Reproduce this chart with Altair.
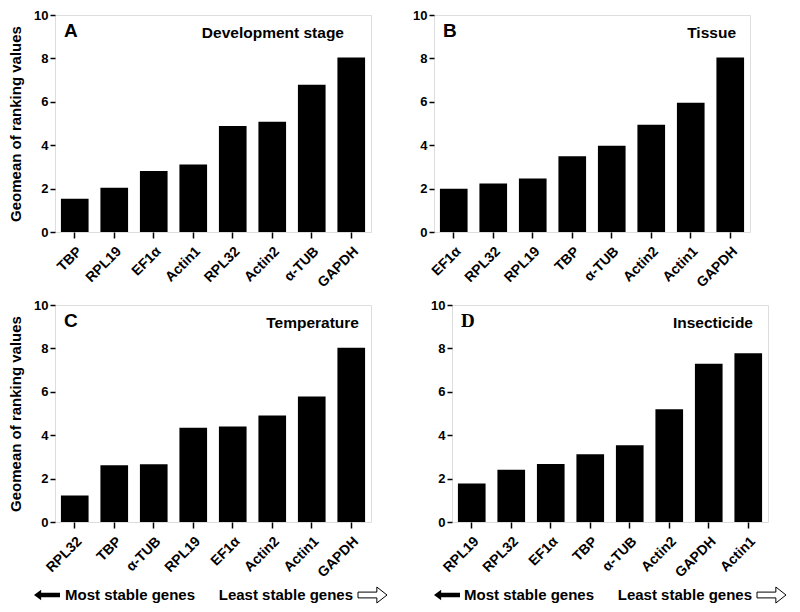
import altair as alt
import pandas as pd

# ---- data ----
genes_a = ["TBP", "RPL19", "EF1α", "Actin1", "RPL32", "Actin2", "α-TUB", "GAPDH"]
values_a = [1.53, 2.04, 2.81, 3.11, 4.89, 5.08, 6.78, 8.04]

genes_b = ["EF1α", "RPL32", "RPL19", "TBP", "α-TUB", "Actin2", "Actin1", "GAPDH"]
values_b = [1.99, 2.23, 2.47, 3.49, 3.98, 4.94, 5.96, 8.04]

genes_c = ["RPL32", "TBP", "α-TUB", "RPL19", "EF1α", "Actin2", "Actin1", "GAPDH"]
values_c = [1.22, 2.61, 2.66, 4.34, 4.40, 4.91, 5.78, 8.03]

genes_d = ["RPL19", "RPL32", "EF1α", "TBP", "α-TUB", "Actin2", "GAPDH", "Actin1"]
values_d = [1.77, 2.41, 2.67, 3.12, 3.54, 5.20, 7.29, 7.78]

y_ticks = [0, 2, 4, 6, 8, 10]
y_title = "Geomean of ranking values"
most_label = "Most stable genes"
least_label = "Least stable genes"

W, H = 316, 217
FONT = "Liberation Sans"

LEFT_ARROW = "M -1 0 L -0.45 -0.4 L -0.45 -0.17 L 1 -0.17 L 1 0.17 L -0.45 0.17 L -0.45 0.4 Z"
RIGHT_ARROW = "M 1 0 L 0.3 -0.55 L 0.3 -0.2 L -1 -0.2 L -1 0.2 L 0.3 0.2 L 0.3 0.55 Z"


def one_row(**kw):
    return pd.DataFrame({k: [v] for k, v in kw.items()})


def panel(genes, values, letter, title, title_right, show_ytitle, letter_font,
          arrows=None):
    df = pd.DataFrame({"gene": genes, "value": values})
    yaxis_kw = dict(values=y_ticks, grid=False, domain=False,
                    labelFont=FONT, labelFontWeight="bold", labelFontSize=13,
                    labelColor="black", tickColor="black", tickSize=5,
                    tickWidth=1.5, labelPadding=2)
    if show_ytitle:
        yaxis_kw.update(title=y_title, titleFont=FONT, titleFontWeight="bold",
                        titleFontSize=15, titleColor="black", titlePadding=10)
    else:
        yaxis_kw.update(title=None)
    bars = alt.Chart(df).mark_bar(color="black").encode(
        x=alt.X("gene:N", sort=genes,
                scale=alt.Scale(paddingInner=0.3, paddingOuter=0.15),
                axis=alt.Axis(title=None, labelAngle=-45, grid=False, domain=False,
                              labelFont=FONT, labelFontWeight="bold",
                              labelFontSize=14, labelColor="black",
                              tickColor="black", tickSize=6, tickWidth=1.5,
                              labelPadding=6)),
        y=alt.Y("value:Q", scale=alt.Scale(domain=[0, 10]),
                axis=alt.Axis(**yaxis_kw)),
    )
    letter_txt = alt.Chart(one_row(t=letter)).mark_text(
        font=letter_font, fontWeight="bold", fontSize=19, align="left",
        baseline="middle", color="black"
    ).encode(text="t:N", x=alt.value(9), y=alt.value(16))
    title_txt = alt.Chart(one_row(t=title)).mark_text(
        font=FONT, fontWeight="bold", fontSize=15.5, align="right",
        baseline="middle", color="black"
    ).encode(text="t:N", x=alt.value(W - title_right), y=alt.value(18))
    layers = [bars, letter_txt, title_txt]
    if arrows is not None:
        bx, mx, lx, wx = arrows
        ay = H + 73
        layers += [
            alt.Chart(one_row(t="l")).mark_point(
                shape=LEFT_ARROW, size=676, filled=True, color="black",
                opacity=1).encode(x=alt.value(bx), y=alt.value(ay)),
            alt.Chart(one_row(t=most_label)).mark_text(
                font=FONT, fontWeight="bold", fontSize=15, align="left",
                baseline="middle", color="black"
            ).encode(text="t:N", x=alt.value(mx), y=alt.value(ay)),
            alt.Chart(one_row(t=least_label)).mark_text(
                font=FONT, fontWeight="bold", fontSize=15, align="right",
                baseline="middle", color="black"
            ).encode(text="t:N", x=alt.value(lx), y=alt.value(ay)),
            alt.Chart(one_row(t="r")).mark_point(
                shape=RIGHT_ARROW, size=841, filled=True, fill="white",
                stroke="black", strokeWidth=1, opacity=1
            ).encode(x=alt.value(wx), y=alt.value(ay)),
        ]
    return alt.layer(*layers).properties(width=W, height=H)


pa = panel(genes_a, values_a, "A", "Development stage", 27, True, FONT)
pb = panel(genes_b, values_b, "B", "Tissue", 14, False, FONT)
pc = panel(genes_c, values_c, "C", "Temperature", 12, True, FONT,
           arrows=(-8, 10, W - 18, W + 1.5))
pd_ = panel(genes_d, values_d, "D", "Insecticide", 15, False, "Liberation Serif",
            arrows=(-5, 12, W - 16, W + 3.5))

chart = alt.vconcat(
    alt.hconcat(pa, pb, spacing=40),
    alt.hconcat(pc, pd_, spacing=40),
    spacing=7,
).properties(padding=0).configure_view(
    stroke="black", strokeWidth=1.5
).configure(background="white")

chart.save("out.html", embed_options={"renderer": "svg", "actions": False})
